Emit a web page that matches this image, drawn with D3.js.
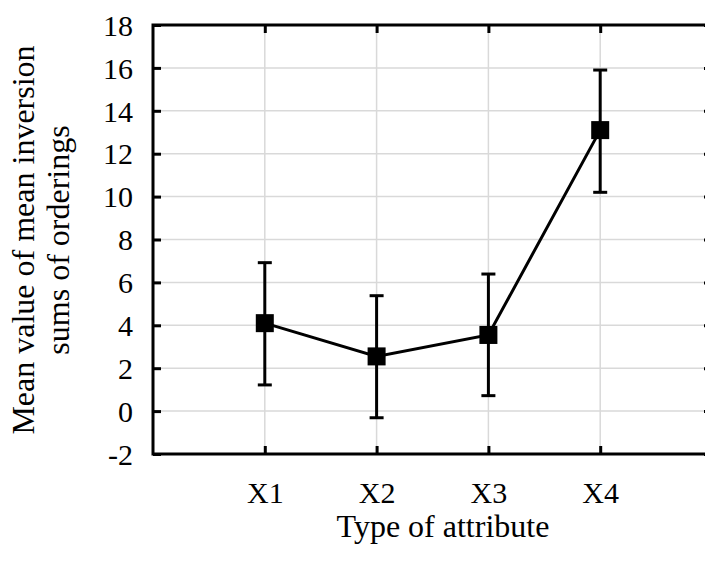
<!DOCTYPE html>
<html>
<head>
<meta charset="utf-8">
<script src="https://cdn.jsdelivr.net/npm/d3@7"></script>
<style>
html,body{margin:0;padding:0;background:#fff;}
svg{display:block;}
text{font-family:"Liberation Serif","Times New Roman",serif;fill:#000;}
</style>
</head>
<body>
<svg id="chart" width="705" height="563"></svg>
<script>
const categories = ["X1", "X2", "X3", "X4"];
const means = [4.1, 2.55, 3.55, 13.1];
const upper = [6.92, 5.38, 6.39, 15.9];
const lower = [1.22, -0.31, 0.72, 10.2];
const yTicks = [-2, 0, 2, 4, 6, 8, 10, 12, 14, 16, 18];
const xTitle = "Type of attribute";
const yTitle = ["Mean value of mean inversion", "sums of orderings"];

const svg = d3.select("#chart");
const L = 153, R = 712, T = 25, B = 454;
const fsTick = 30, fsTitle = 32;

const x = d3.scaleLinear().domain([0, categories.length + 1]).range([L, R]);
const y = d3.scaleLinear().domain([-2, 18]).range([B, T]);

// grid
const g = svg.append("g");
g.selectAll(".hg").data(yTicks).join("line")
  .attr("x1", L).attr("x2", R).attr("y1", d => y(d)).attr("y2", d => y(d))
  .attr("stroke", "#d9d9d9").attr("stroke-width", 1.5);
g.selectAll(".vg").data(categories).join("line")
  .attr("x1", (d, i) => x(i + 1)).attr("x2", (d, i) => x(i + 1))
  .attr("y1", T).attr("y2", B)
  .attr("stroke", "#d9d9d9").attr("stroke-width", 1.5);

// axes with inward ticks
const yLeft = d3.axisLeft(y).tickValues(yTicks).tickSizeInner(-8).tickSizeOuter(0).tickPadding(20).tickFormat(d => String(d));
const ya = svg.append("g").attr("transform", `translate(${L},0)`).call(yLeft);
ya.select(".domain").remove();
ya.selectAll("line").attr("stroke", "#000").attr("stroke-width", 3);
ya.selectAll("text").attr("font-size", fsTick).attr("font-family", "Liberation Serif").attr("dy", "0.34em");

const yRight = d3.axisRight(y).tickValues(yTicks).tickSizeInner(-8).tickSizeOuter(0).tickFormat("");
const yr = svg.append("g").attr("transform", `translate(${R},0)`).call(yRight);
yr.select(".domain").remove();
yr.selectAll("line").attr("stroke", "#000").attr("stroke-width", 3);

const xBottom = d3.axisBottom(x).tickValues(d3.range(1, categories.length + 1))
  .tickSizeInner(-8).tickSizeOuter(0).tickFormat(d => categories[d - 1]);
const xb = svg.append("g").attr("transform", `translate(0,${B})`).call(xBottom);
xb.select(".domain").remove();
xb.selectAll("line").attr("stroke", "#000").attr("stroke-width", 3);
xb.selectAll("text").attr("font-size", fsTick).attr("font-family", "Liberation Serif")
  .attr("y", 49).attr("dy", 0);

const xTop = d3.axisTop(x).tickValues(d3.range(1, categories.length + 1))
  .tickSizeInner(-8).tickSizeOuter(0).tickFormat("");
const xt = svg.append("g").attr("transform", `translate(0,${T})`).call(xTop);
xt.select(".domain").remove();
xt.selectAll("line").attr("stroke", "#000").attr("stroke-width", 3);

// frame
svg.append("rect").attr("x", L).attr("y", T).attr("width", R - L).attr("height", B - T)
  .attr("fill", "none").attr("stroke", "#000").attr("stroke-width", 3);

// error bars
const eb = svg.append("g");
categories.forEach((c, i) => {
  const cx = x(i + 1);
  eb.append("line").attr("x1", cx).attr("x2", cx).attr("y1", y(upper[i])).attr("y2", y(lower[i]))
    .attr("stroke", "#000").attr("stroke-width", 3);
  [upper[i], lower[i]].forEach(v => {
    eb.append("line").attr("x1", cx - 7).attr("x2", cx + 7).attr("y1", y(v)).attr("y2", y(v))
      .attr("stroke", "#000").attr("stroke-width", 3);
  });
});

// line
const line = d3.line().x((d, i) => x(i + 1)).y(d => y(d));
svg.append("path").datum(means).attr("d", line).attr("fill", "none")
  .attr("stroke", "#000").attr("stroke-width", 3);

// markers
svg.selectAll(".mk").data(means).join("rect")
  .attr("x", (d, i) => x(i + 1) - 9).attr("y", d => y(d) - 9)
  .attr("width", 18).attr("height", 18).attr("fill", "#000");

// titles
svg.append("text").attr("x", 443).attr("y", 537).attr("text-anchor", "middle")
  .attr("font-size", fsTitle).text(xTitle);

const yt = svg.append("text").attr("transform", `translate(34,240) rotate(-90)`)
  .attr("text-anchor", "middle").attr("font-size", fsTitle);
yt.append("tspan").attr("x", 0).attr("y", 0).text(yTitle[0]);
yt.append("tspan").attr("x", 0).attr("y", 35).text(yTitle[1]);
</script>
</body>
</html>
